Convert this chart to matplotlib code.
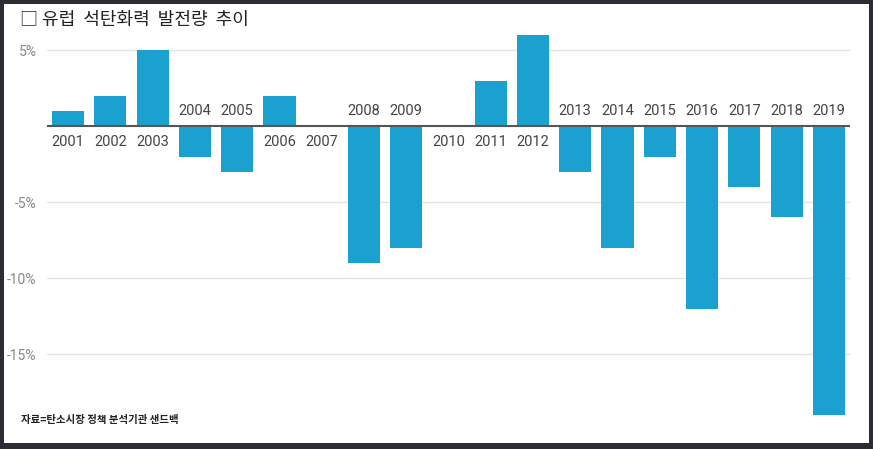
import matplotlib.pyplot as plt
from matplotlib.patches import Rectangle

plt.rcParams['font.family'] = ['Roboto', 'Noto Sans CJK KR', 'DejaVu Sans']

years = ['2001', '2002', '2003', '2004', '2005', '2006', '2007', '2008', '2009', '2010',
         '2011', '2012', '2013', '2014', '2015', '2016', '2017', '2018', '2019']
change = [1, 2, 5, -2, -3, 2, 0, -9, -8, 0, 3, 6, -3, -8, -2, -12, -4, -6, -19]
yticks = [5, 0, -5, -10, -15]
ytick_labels = ['5%', '', '-5%', '-10%', '-15%']

title = '□ 유럽  석탄화력  발전량  추이'
source = '자료=탄소시장 정책 분석기관 샌드백'

fig = plt.figure(figsize=(8.73, 4.49), dpi=100)
fig.patch.set_facecolor('#2b2c34')
# white panel
fig.add_artist(Rectangle((4 / 873, 6 / 449), 865 / 873, 439 / 449,
                         transform=fig.transFigure, facecolor='white', edgecolor='none', zorder=0))

ax = fig.add_axes([47 / 873, 25 / 449, 803 / 873, 395 / 449])
ax.set_facecolor('none')
x = list(range(len(years)))
ax.bar(x, change, width=0.76, color='#1ba1cf', zorder=3)

ax.set_xlim(-0.5, len(years) - 0.5)
ax.set_ylim(-19.6, 6.4)
for t in [5, -5, -10, -15]:
    ax.axhline(t, color='#e3e3e3', linewidth=1, zorder=1)
ax.axhline(0, color='#555555', linewidth=1.5, zorder=4)

for xi, (yr, v) in enumerate(zip(years, change)):
    if v < 0:
        ax.annotate(yr, (xi, 0), xytext=(0, 6), textcoords='offset points',
                    ha='center', va='bottom', fontsize=10.5, color='#444444')
    else:
        ax.annotate(yr, (xi, 0), xytext=(0, -6.5), textcoords='offset points',
                    ha='center', va='top', fontsize=10.5, color='#444444')

ax.set_yticks(yticks)
ax.set_yticklabels(ytick_labels, fontsize=10, color='#888888')
ax.tick_params(axis='y', length=0, pad=7.5)
ax.set_xticks([])
for s in ax.spines.values():
    s.set_visible(False)

fig.text(20 / 873, 1 - 20 / 449, title, fontsize=13, color='#222222',
         family=['Noto Sans CJK KR', 'DejaVu Sans'], va='center', ha='left')
fig.text(21 / 873, 1 - 420 / 449, source, fontsize=7.5, color='#222222', fontweight='bold',
         family=['Noto Sans CJK KR', 'DejaVu Sans'], va='center', ha='left')

fig.savefig('out.png', dpi=100, facecolor=fig.get_facecolor())
